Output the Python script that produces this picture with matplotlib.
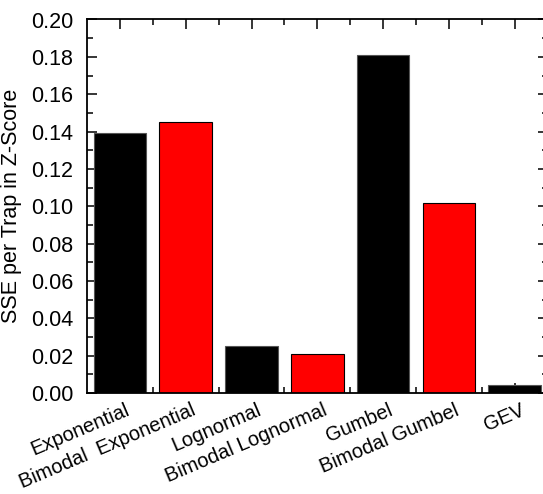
import matplotlib
matplotlib.use("Agg")
import matplotlib.pyplot as plt
from matplotlib.ticker import MultipleLocator, FixedLocator
from matplotlib.transforms import ScaledTranslation

categories = ["Exponential", "Bimodal  Exponential", "Lognormal", "Bimodal Lognormal",
              "Gumbel", "Bimodal Gumbel", "GEV"]
sse_values = [0.1394, 0.1453, 0.0252, 0.0209, 0.1811, 0.1017, 0.0045]
bar_colors = ["#000000", "#ff0000", "#000000", "#ff0000", "#000000", "#ff0000", "#000000"]
y_label = "SSE per Trap in Z-Score"

plt.rcParams['font.family'] = ['Liberation Sans', 'DejaVu Sans']

W, H = 543, 494
fig = plt.figure(figsize=(W / 100, H / 100), dpi=100)
left_px, right_px, top_px, bot_px = 87, 547.6, 19.5, 393
ax = fig.add_axes([left_px / W, (H - bot_px) / H, (right_px - left_px) / W, (bot_px - top_px) / H])

x = list(range(len(categories)))
ax.bar(x, sse_values, width=0.8, color=bar_colors,
       edgecolor=["#555555" if c == "#000000" else "#000000" for c in bar_colors],
       linewidth=0.8, zorder=2)

ax.set_xlim(-0.5, len(categories) - 0.5)
ax.set_ylim(0, 0.20)
ax.yaxis.set_major_locator(MultipleLocator(0.02))
ax.yaxis.set_minor_locator(MultipleLocator(0.01))
ax.set_yticklabels([f"{v:.2f}" for v in ax.get_yticks()])
ax.xaxis.set_major_locator(FixedLocator(x))
ax.xaxis.set_minor_locator(FixedLocator([i + 0.5 for i in x[:-1]]))
ax.set_xticklabels([])

for s in ax.spines.values():
    s.set_linewidth(1.3)

ax.tick_params(axis='both', which='both', direction='in', top=True, right=True, width=1.1)
ax.tick_params(axis='both', which='major', length=7)
ax.tick_params(axis='both', which='minor', length=4)
ax.tick_params(axis='y', which='major', labelsize=15.5, pad=10)

offset = ScaledTranslation(5 / 100, -7.5 / 100, fig.dpi_scale_trans)
for xi, name in zip(x, categories):
    ax.text(xi, 0, name, transform=ax.get_xaxis_transform() + offset,
            rotation=23, ha='right', va='top', rotation_mode='anchor', fontsize=14.5)

ax.set_ylabel(y_label, fontsize=15.5, labelpad=6)

fig.savefig("out.png", dpi=100)
